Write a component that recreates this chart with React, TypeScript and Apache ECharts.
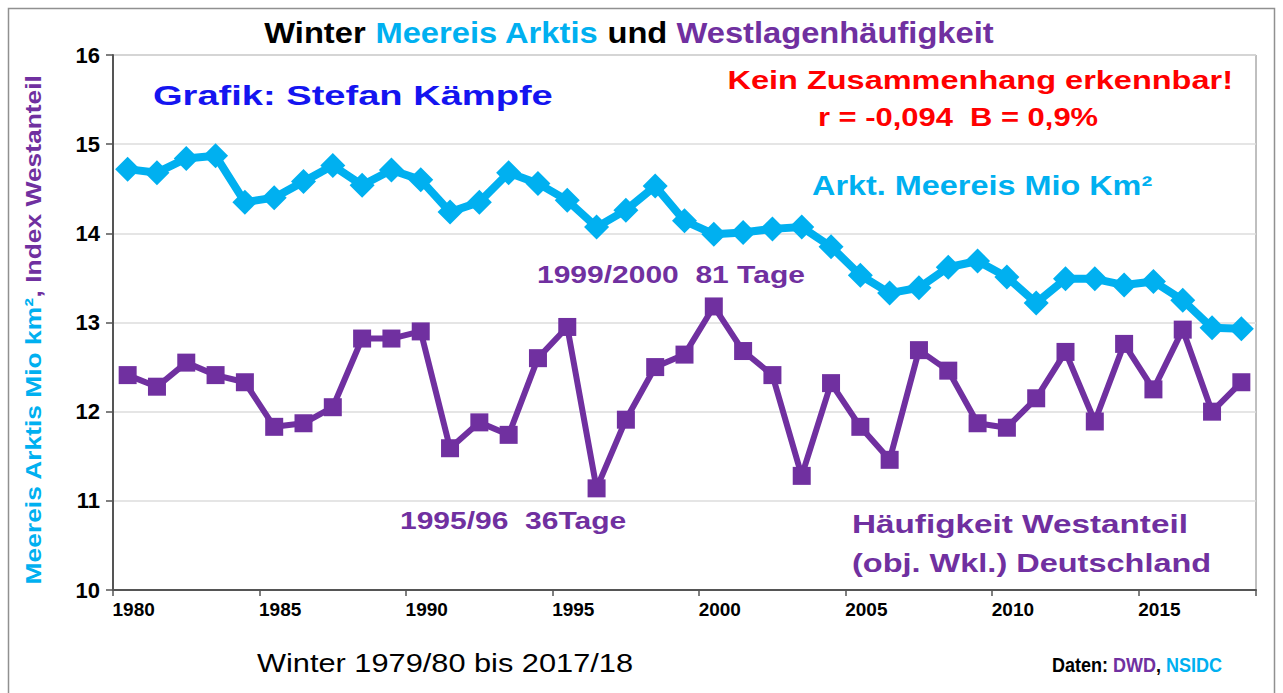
import React, { useEffect, useRef } from "react";
import * as echarts from "echarts";

const years: string[] = [
  "1980","1981","1982","1983","1984","1985","1986","1987","1988","1989",
  "1990","1991","1992","1993","1994","1995","1996","1997","1998","1999",
  "2000","2001","2002","2003","2004","2005","2006","2007","2008","2009",
  "2010","2011","2012","2013","2014","2015","2016","2017","2018",
];

const seaIce: number[] = [
  14.72, 14.68, 14.84, 14.87, 14.35, 14.4, 14.58, 14.76, 14.54, 14.71,
  14.6, 14.24, 14.35, 14.68, 14.56, 14.37, 14.07, 14.26, 14.53, 14.14,
  13.99, 14.01, 14.05, 14.07, 13.85, 13.53, 13.33, 13.39, 13.62, 13.69,
  13.51, 13.22, 13.49, 13.49, 13.42, 13.46, 13.25, 12.94, 12.93,
];

const westIndex: number[] = [
  12.41, 12.28, 12.55, 12.41, 12.33, 11.83, 11.87, 12.05, 12.82, 12.82,
  12.9, 11.59, 11.88, 11.74, 12.6, 12.95, 11.14, 11.91, 12.5, 12.64,
  13.18, 12.68, 12.41, 11.28, 12.32, 11.83, 11.46, 12.69, 12.46, 11.87,
  11.82, 12.15, 12.67, 11.89, 12.76, 12.25, 12.92, 12.0, 12.33,
];

const CYAN = "#00b0f0";
const PURPLE = "#7030a0";
const RED = "#ff0000";
const BLUE = "#1414f0";
const FONT = "'Liberation Sans', Arial, sans-serif";

export default function App() {
  const ref = useRef<HTMLDivElement | null>(null);

  useEffect(() => {
    if (!ref.current) return;
    const chart = echarts.init(ref.current, undefined, { renderer: "svg" });
    const bold = (size: number, color: string) => ({
      fontSize: size,
      fontWeight: "bold" as const,
      fill: color,
      fontFamily: FONT,
    });
    const txt = (
      text: string,
      x: number,
      y: number,
      size: number,
      color: string,
      align: string,
      sx: number
    ) => ({
      type: "text",
      x,
      y,
      scaleX: sx,
      style: { text, align, verticalAlign: "middle", ...bold(size, color) },
    });
    chart.setOption({
      animation: false,
      backgroundColor: "#ffffff",
      grid: {
        left: 113,
        right: 27,
        top: 55,
        bottom: 103,
        show: true,
        borderColor: "#808080",
        borderWidth: 1,
      },
      xAxis: {
        type: "category",
        data: years,
        boundaryGap: true,
        axisLine: { lineStyle: { color: "#555555", width: 2 } },
        axisTick: { show: true, interval: 4, length: 6, lineStyle: { color: "#555555", width: 1.5 } },
        axisLabel: {
          interval: 4,
          fontSize: 19,
          fontWeight: "bold",
          color: "#000000",
          fontFamily: FONT,
          margin: 10,
          padding: [0, 0, 0, 12],
        },
        splitLine: { show: false },
      },
      yAxis: {
        type: "value",
        min: 10,
        max: 16,
        interval: 1,
        axisLine: { show: true, lineStyle: { color: "#555555", width: 2 } },
        axisTick: { show: true, length: 7, lineStyle: { color: "#555555", width: 1.5 } },
        axisLabel: {
          fontSize: 22,
          fontWeight: "bold",
          color: "#000000",
          fontFamily: FONT,
          margin: 13,
        },
        splitLine: { show: true, lineStyle: { color: "#dcdcdc", width: 1.5 } },
      },
      series: [
        {
          name: "Arkt. Meereis Mio Km²",
          type: "line",
          data: seaIce,
          symbol: "diamond",
          symbolSize: 25,
          showAllSymbol: true,
          lineStyle: { color: CYAN, width: 8 },
          itemStyle: { color: CYAN },
          z: 3,
        },
        {
          name: "Häufigkeit Westanteil",
          type: "line",
          data: westIndex,
          symbol: "rect",
          symbolSize: 18,
          showAllSymbol: true,
          lineStyle: { color: PURPLE, width: 6 },
          itemStyle: { color: PURPLE },
          z: 4,
        },
      ],
      graphic: [
        {
          type: "rect",
          shape: { x: 8.5, y: 8.5, width: 1266, height: 690 },
          style: { fill: "none", stroke: "#909090", lineWidth: 1.5 },
          silent: true,
        },
        {
          type: "text",
          x: 629,
          y: 33,
          scaleX: 1.09,
          style: {
            text: "{k|Winter }{c|Meereis Arktis}{k| und }{p|Westlagenhäufigkeit}",
            align: "center",
            verticalAlign: "middle",
            rich: {
              k: { fontSize: 30, fontFamily: FONT, fill: "#000000", fontWeight: "bold" },
              c: { fontSize: 30, fontFamily: FONT, fill: CYAN, fontWeight: "bold" },
              p: { fontSize: 30, fontFamily: FONT, fill: PURPLE, fontWeight: "bold" },
            },
          },
        },
        {
          type: "text",
          x: 33,
          y: 330,
          rotation: Math.PI / 2,
          scaleX: 1.2,
          style: {
            text: "{c|Meereis Arktis Mio km²}{p|, Index Westanteil}",
            align: "center",
            verticalAlign: "middle",
            rich: {
              c: { fontSize: 22, fontWeight: "bold", fontFamily: FONT, fill: CYAN },
              p: { fontSize: 22, fontWeight: "bold", fontFamily: FONT, fill: PURPLE },
            },
          },
        },
        txt("Grafik: Stefan Kämpfe", 153, 95, 28, BLUE, "left", 1.36),
        txt("Kein Zusammenhang erkennbar!", 1233, 80, 26, RED, "right", 1.25),
        txt("r = -0,094  B = 0,9%", 958, 117, 26, RED, "center", 1.19),
        txt("Arkt. Meereis Mio Km²", 812, 185, 27, CYAN, "left", 1.2),
        txt("1999/2000  81 Tage", 537, 275, 24, PURPLE, "left", 1.25),
        txt("1995/96  36Tage", 400, 521, 24, PURPLE, "left", 1.25),
        txt("Häufigkeit Westanteil", 852, 524, 26, PURPLE, "left", 1.28),
        txt("(obj. Wkl.) Deutschland", 852, 563, 26, PURPLE, "left", 1.25),
        {
          type: "text",
          x: 445,
          y: 664,
          scaleX: 1.23,
          style: {
            text: "Winter 1979/80 bis 2017/18",
            align: "center",
            verticalAlign: "middle",
            fontSize: 25,
            fontWeight: "normal",
            fontFamily: FONT,
            fill: "#000000",
          },
        },
        {
          type: "text",
          x: 1222,
          y: 665,
          scaleX: 0.9,
          style: {
            text: "{k|Daten: }{p|DWD}{k|, }{c|NSIDC}",
            align: "right",
            verticalAlign: "middle",
            rich: {
              k: { fontSize: 20, fontWeight: "bold", fontFamily: FONT, fill: "#000000" },
              p: { fontSize: 20, fontWeight: "bold", fontFamily: FONT, fill: PURPLE },
              c: { fontSize: 20, fontWeight: "bold", fontFamily: FONT, fill: CYAN },
            },
          },
        },
      ],
    });
    return () => chart.dispose();
  }, []);

  return (
    <div
      ref={ref}
      style={{ position: "fixed", left: 0, top: 0, width: 1283, height: 693 }}
    />
  );
}
